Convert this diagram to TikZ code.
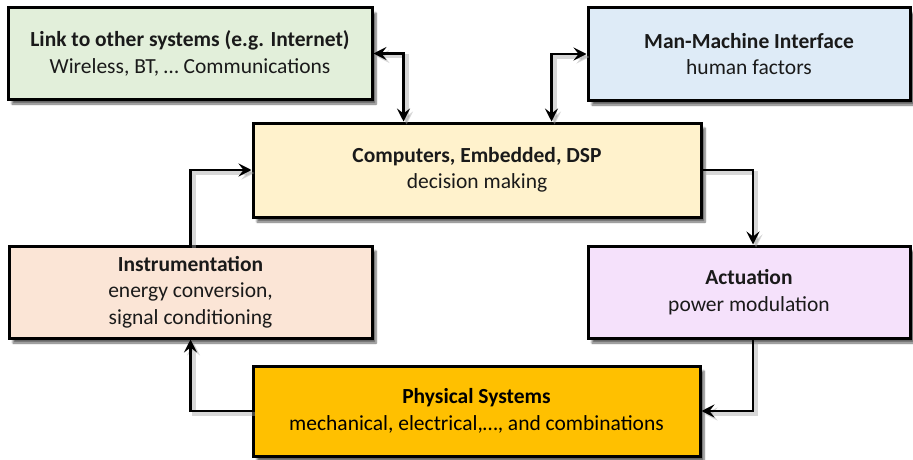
\documentclass[tikz,border=0pt]{standalone}
\usepackage{fontspec}
\setmainfont{Carlito}
\usetikzlibrary{arrows.meta,shadows.blur,calc}
\definecolor{cgreen}{HTML}{E2EFDA}
\definecolor{cblue}{HTML}{DEEBF7}
\definecolor{cyel}{HTML}{FFF2CC}
\definecolor{corange}{HTML}{FBE5D6}
\definecolor{cpurple}{HTML}{F5E1FB}
\definecolor{cgold}{HTML}{FFC000}
\definecolor{ctext}{HTML}{1A1A1A}
\tikzset{
  blk/.style={draw=black, line width=3pt, rectangle, align=center, inner sep=0pt,
    text=ctext, font=\fontsize{21.5}{26.5}\selectfont,
    blur shadow={shadow xshift=4pt, shadow yshift=-5pt, shadow blur steps=6, shadow opacity=60}},
  conn/.style={line width=2.8pt, black, -{Stealth[length=13pt,width=13pt,inset=5pt]},
    preaction={draw=black!35, opacity=0.45, line width=4pt, transform canvas={shift={(3pt,-3pt)}}}},
  dconn/.style={conn, {Stealth[length=13pt,width=13pt,inset=5pt]}-{Stealth[length=13pt,width=13pt,inset=5pt]}}
}
\begin{document}
\begin{tikzpicture}[x=1pt,y=-1pt]
\useasboundingbox (0,0) rectangle (913,460);
\node[blk, fill=cgreen, minimum width=364pt, minimum height=91pt] (L) at (190,53.5)
  {\textbf{Link to other systems (e.g. Internet)}\\Wireless, BT, … Communications};
\node[blk, fill=cblue, minimum width=322pt, minimum height=92pt] (M) at (749,54)
  {\textbf{Man-Machine Interface}\\human factors};
\node[blk, fill=cyel, minimum width=448pt, minimum height=94pt] (C) at (477,170)
  {\textbf{Computers, Embedded, DSP}\\decision making};
\node[blk, fill=corange, minimum width=363pt, minimum height=92pt] (I) at (190.5,292)
  {\textbf{Instrumentation}\\energy conversion,\\signal conditioning};
\node[blk, fill=cpurple, minimum width=322pt, minimum height=92pt] (A) at (749,292)
  {\textbf{Actuation}\\power modulation};
\node[blk, fill=cgold, text=black, minimum width=447pt, minimum height=90pt] (P) at (476.5,411)
  {\textbf{Physical Systems}\\mechanical, electrical,…, and combinations};

\coordinate (cl) at ([xshift=152pt]C.north west);
\coordinate (cm) at ([xshift=300pt]C.north west);
\draw[dconn] (L.east) -| (cl);
\draw[dconn] (M.west) -| (cm);
\draw[conn] (C.east) -| ([xshift=4pt]A.north);
\draw[conn] ([xshift=4pt]A.south) |- (P.east);
\draw[conn] (P.west) -| (I.south);
\draw[conn] (I.north) |- (C.west);
\end{tikzpicture}
\end{document}
